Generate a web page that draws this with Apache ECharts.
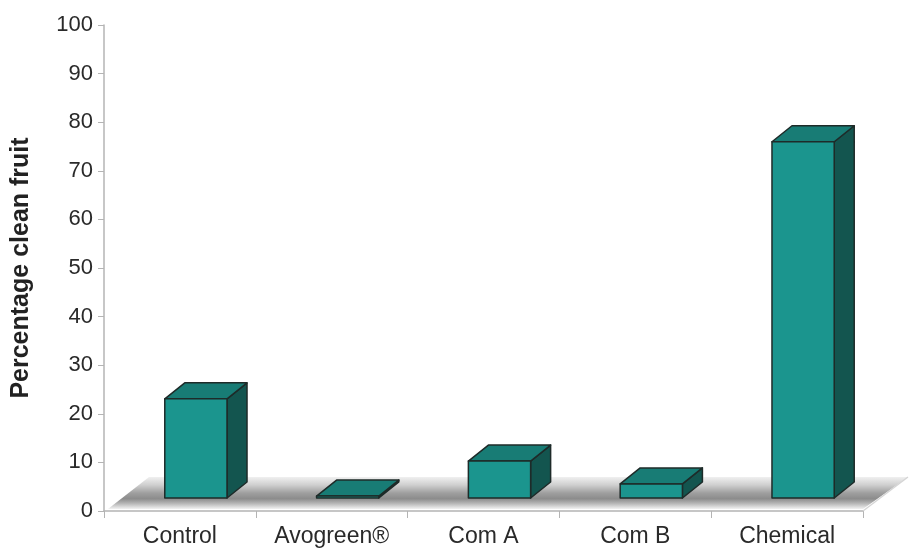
<!DOCTYPE html>
<html>
<head>
<meta charset="utf-8">
<script src="https://cdn.jsdelivr.net/npm/echarts@6/dist/echarts.min.js"></script>
<style>
html, body { margin: 0; padding: 0; background: #fff; }
#chart { width: 909px; height: 549px; }
</style>
</head>
<body>
<div id="chart"></div>
<script>
// data
var categories = ['Control', 'Avogreen®', 'Com A', 'Com B', 'Chemical'];
var cleanFruit = [20.4, 0.4, 7.6, 2.9, 73.3];
var yTicks = { min: 0, max: 100, step: 10 };

var chart = echarts.init(document.getElementById('chart'));

var floorDepth = [45, -34]; // floor depth in px (x, y)
var barShift = [16, -13];   // where the bar front sits inside the floor
var barDepth = [20, -16];   // bar thickness in depth
var edge = '#1e2b29';

function renderFloor(params, api) {
	var cs = params.coordSys;
	var y0 = cs.y + cs.height;
	var x0 = cs.x, x1 = cs.x + cs.width;
	return {
		type: 'group',
		children: [{
			type: 'polygon',
			shape: { points: [[x0 + 4, y0 - 2], [x1, y0 - 2], [x1 + floorDepth[0], y0 + floorDepth[1]], [x0 + floorDepth[0], y0 + floorDepth[1]]] },
			style: {
				fill: new echarts.graphic.LinearGradient(0, 0, 0, 1, [
					{ offset: 0, color: '#f0f0f0' },
					{ offset: 0.25, color: '#cfcfcf' },
					{ offset: 0.5, color: '#9f9f9f' },
					{ offset: 0.68, color: '#8c8c8c' },
					{ offset: 0.82, color: '#b4b4b4' },
					{ offset: 1, color: '#f2f2f2' }
				])
			}
		}, {
			type: 'line',
			shape: { x1: x1, y1: y0, x2: x1 + floorDepth[0], y2: y0 + floorDepth[1] },
			style: { stroke: '#d4d4d4', lineWidth: 1.2 }
		}]
	};
}

function renderBar(params, api) {
	var base = api.coord([api.value(0), 0]);
	var top = api.coord([api.value(0), api.value(1)]);
	var w = api.size([1, 0])[0] * 0.41;
	var xa = base[0] + barShift[0] - w / 2;
	var xb = xa + w;
	var yb = base[1] + barShift[1];
	var yt = top[1] + barShift[1];
	var dx = barDepth[0], dy = barDepth[1];
	var st = { stroke: edge, lineWidth: 1.5, lineJoin: 'round' };
	return {
		type: 'group',
		children: [{
			type: 'polygon',
			shape: { points: [[xb, yt], [xb + dx, yt + dy], [xb + dx, yb + dy], [xb, yb]] },
			style: Object.assign({ fill: '#13554f' }, st)
		}, {
			type: 'polygon',
			shape: { points: [[xa, yt], [xb, yt], [xb + dx, yt + dy], [xa + dx, yt + dy]] },
			style: Object.assign({ fill: '#187c75' }, st)
		}, {
			type: 'rect',
			shape: { x: xa, y: yt, width: w, height: yb - yt },
			style: Object.assign({ fill: '#1b958e' }, st)
		}]
	};
}

var option = {
	backgroundColor: '#fff',
	animation: false,
	grid: { left: 104, right: 46, top: 25, bottom: 38 },
	xAxis: {
		type: 'category',
		data: categories,
		axisLine: { lineStyle: { color: '#b4b4b4', width: 1.5 } },
		axisTick: { show: true, length: 7, lineStyle: { color: '#b4b4b4' } },
		axisLabel: { color: '#2a2a2a', fontSize: 23, fontFamily: 'Liberation Sans', margin: 14 },
		splitLine: { show: false }
	},
	yAxis: {
		type: 'value',
		min: yTicks.min,
		max: yTicks.max,
		interval: yTicks.step,
		name: 'Percentage clean fruit',
		nameLocation: 'middle',
		nameGap: 70,
		nameTextStyle: { color: '#222', fontSize: 25, fontWeight: 'bold', fontFamily: 'Liberation Sans' },
		axisLine: { show: true, lineStyle: { color: '#b4b4b4', width: 1.5 } },
		axisTick: { show: true, length: 6, lineStyle: { color: '#b4b4b4' } },
		axisLabel: { color: '#2a2a2a', fontSize: 22, fontFamily: 'Liberation Sans', margin: 11 },
		splitLine: { show: false }
	},
	series: [{
		type: 'custom',
		renderItem: renderFloor,
		data: [0],
		silent: true,
		z: 1
	}, {
		type: 'custom',
		renderItem: renderBar,
		encode: { x: 0, y: 1 },
		data: categories.map(function (c, i) { return [i, cleanFruit[i]]; }),
		z: 2
	}]
};

chart.setOption(option);
</script>
</body>
</html>
